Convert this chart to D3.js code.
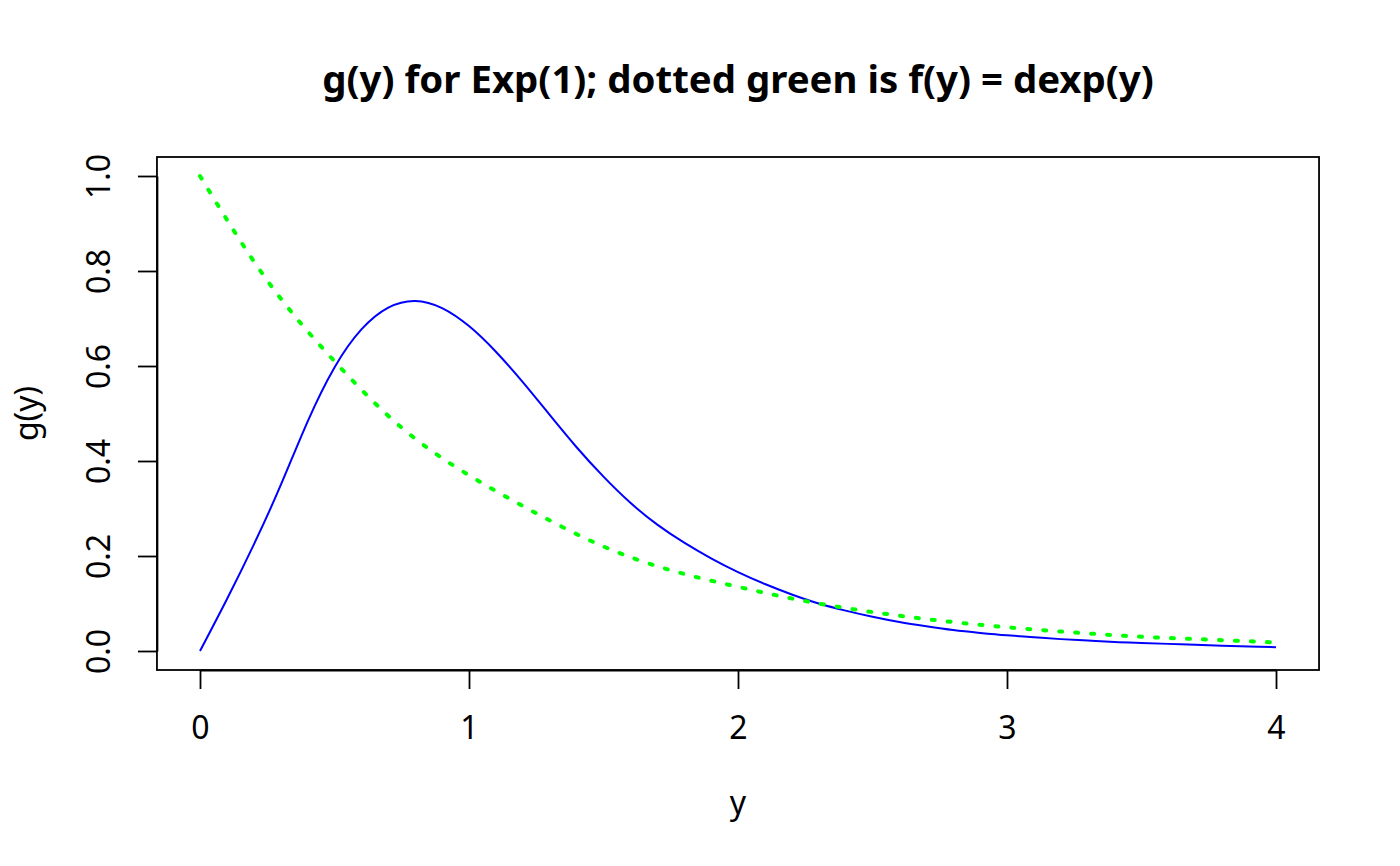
<!DOCTYPE html>
<html>
<head>
<meta charset="utf-8">
<script src="https://cdn.jsdelivr.net/npm/d3@7"></script>
<style>
  html, body { margin: 0; padding: 0; background: #fff; }
  svg text { font-family: "Noto Sans", sans-serif; fill: #000; }
</style>
</head>
<body>
<svg id="chart" width="1400" height="866"></svg>
<script>
// values
const yGrid = [0.0, 0.1, 0.2, 0.3, 0.4, 0.5, 0.6, 0.7, 0.8, 0.9,
               1.0, 1.1, 1.2, 1.3, 1.4, 1.5, 1.6, 1.7, 1.8, 1.9,
               2.0, 2.1, 2.2, 2.3, 2.4, 2.5, 2.6, 2.7, 2.8, 2.9,
               3.0, 3.1, 3.2, 3.3, 3.4, 3.5, 3.6, 3.7, 3.8, 3.9, 4.0];
const gValues = [0.000, 0.109, 0.224, 0.349, 0.483, 0.597, 0.677, 0.723, 0.737, 0.722,
                 0.684, 0.630, 0.566, 0.497, 0.429, 0.367, 0.312, 0.266, 0.228, 0.195,
                 0.166, 0.141, 0.119, 0.100, 0.085, 0.072, 0.061, 0.052, 0.044, 0.038,
                 0.033, 0.029, 0.025, 0.022, 0.019, 0.017, 0.015, 0.013, 0.011, 0.0095, 0.008];

const fGrid = [0, 0.25, 0.5, 0.75, 1, 1.25, 1.5, 1.75, 2,
               2.25, 2.5, 2.75, 3, 3.25, 3.5, 3.75, 4];
const fValues = [1.00, 0.78, 0.61, 0.47, 0.37, 0.29, 0.22, 0.17, 0.135,
                 0.105, 0.082, 0.064, 0.050, 0.039, 0.030, 0.024, 0.018];

const xTicks = [0, 1, 2, 3, 4];
const yTicks = [0.0, 0.2, 0.4, 0.6, 0.8, 1.0];

const titleText = "g(y) for Exp(1); dotted green is f(y) = dexp(y)";
const xLabel = "y";
const yLabel = "g(y)";

const svg = d3.select("#chart");

// data ranges padded by 4% like base R plots
const x = d3.scaleLinear().domain([0, 4]).range([200, 1276]);
const y = d3.scaleLinear().domain([0, 1]).range([651, 176]);
const xPad = 0.04 * 4, yPad = 0.04 * 1;

const boxLeft = x(-xPad), boxRight = x(4 + xPad);
const boxTop = y(1 + yPad), boxBottom = y(-yPad);

// plot box
svg.append("rect")
    .attr("x", boxLeft)
    .attr("y", boxTop)
    .attr("width", boxRight - boxLeft)
    .attr("height", boxBottom - boxTop)
    .attr("fill", "none")
    .attr("stroke", "#000")
    .attr("stroke-width", 1.8);

// axes
const xAxis = svg.append("g")
    .attr("transform", `translate(0,${boxBottom})`)
    .call(d3.axisBottom(x)
        .tickValues(xTicks)
        .tickFormat(d3.format("d"))
        .tickSize(19)
        .tickSizeOuter(0)
        .tickPadding(27));

const yAxis = svg.append("g")
    .attr("transform", `translate(${boxLeft},0)`)
    .call(d3.axisLeft(y)
        .tickValues(yTicks)
        .tickFormat(d3.format(".1f"))
        .tickSize(19)
        .tickSizeOuter(0));

[xAxis, yAxis].forEach(g => {
    g.selectAll("path.domain, line").attr("stroke", "#000").attr("stroke-width", 1.8);
    g.selectAll("text").attr("font-size", "32px").attr("fill", "#000");
    g.attr("font-family", null).attr("font-size", null);
});

yAxis.selectAll("text")
    .attr("x", null)
    .attr("dy", null)
    .attr("text-anchor", "middle")
    .attr("transform", "translate(-47,0) rotate(-90)");

// curves
const gLine = d3.line()
    .x((d, i) => x(yGrid[i]))
    .y(d => y(d))
    .curve(d3.curveNatural);

svg.append("path")
    .datum(gValues)
    .attr("d", gLine)
    .attr("fill", "none")
    .attr("stroke", "#0000ff")
    .attr("stroke-width", 2);

const fLine = d3.line()
    .x((d, i) => x(fGrid[i]))
    .y(d => y(d))
    .curve(d3.curveNatural);

svg.append("path")
    .datum(fValues)
    .attr("d", fLine)
    .attr("fill", "none")
    .attr("stroke", "#00ff00")
    .attr("stroke-width", 4)
    .attr("stroke-linecap", "round")
    .attr("stroke-dasharray", "3,13");

// titles
svg.append("text")
    .attr("x", (boxLeft + boxRight) / 2)
    .attr("y", 93)
    .attr("text-anchor", "middle")
    .attr("font-size", "38.4px")
    .attr("font-weight", "bold")
    .text(titleText);

svg.append("text")
    .attr("x", (boxLeft + boxRight) / 2)
    .attr("y", 814)
    .attr("text-anchor", "middle")
    .attr("font-size", "32px")
    .text(xLabel);

svg.append("text")
    .attr("transform", `translate(38,${(boxTop + boxBottom) / 2}) rotate(-90)`)
    .attr("text-anchor", "middle")
    .attr("font-size", "32px")
    .text(yLabel);
</script>
</body>
</html>
